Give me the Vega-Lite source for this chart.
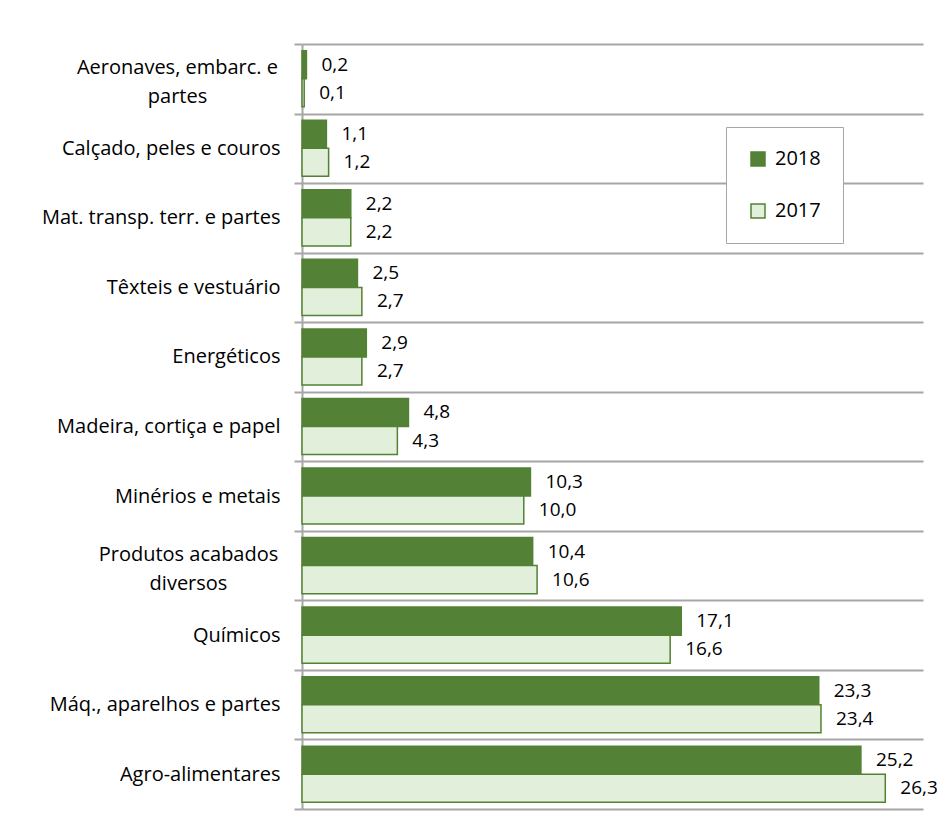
{
  "$schema": "https://vega.github.io/schema/vega-lite/v6.json",
  "autosize": {"type": "none"},
  "padding": {"left": 302, "top": 44, "right": 29, "bottom": 19},
  "width": 621,
  "height": 765,
  "background": "white",
  "config": {
    "view": {"stroke": null},
    "locale": {"number": {"decimal": ",", "thousands": ".", "grouping": [3], "currency": ["", " €"]}}
  },
  "data": {
    "values": [
      {"cat": "Aeronaves, embarc. e partes", "year": "2018", "value": 0.2},
      {"cat": "Aeronaves, embarc. e partes", "year": "2017", "value": 0.1},
      {"cat": "Calçado, peles e couros", "year": "2018", "value": 1.1},
      {"cat": "Calçado, peles e couros", "year": "2017", "value": 1.2},
      {"cat": "Mat. transp. terr. e partes", "year": "2018", "value": 2.2},
      {"cat": "Mat. transp. terr. e partes", "year": "2017", "value": 2.2},
      {"cat": "Têxteis e vestuário", "year": "2018", "value": 2.5},
      {"cat": "Têxteis e vestuário", "year": "2017", "value": 2.7},
      {"cat": "Energéticos", "year": "2018", "value": 2.9},
      {"cat": "Energéticos", "year": "2017", "value": 2.7},
      {"cat": "Madeira, cortiça e papel", "year": "2018", "value": 4.8},
      {"cat": "Madeira, cortiça e papel", "year": "2017", "value": 4.3},
      {"cat": "Minérios e metais", "year": "2018", "value": 10.3},
      {"cat": "Minérios e metais", "year": "2017", "value": 10.0},
      {"cat": "Produtos acabados diversos", "year": "2018", "value": 10.4},
      {"cat": "Produtos acabados diversos", "year": "2017", "value": 10.6},
      {"cat": "Químicos", "year": "2018", "value": 17.1},
      {"cat": "Químicos", "year": "2017", "value": 16.6},
      {"cat": "Máq., aparelhos e partes", "year": "2018", "value": 23.3},
      {"cat": "Máq., aparelhos e partes", "year": "2017", "value": 23.4},
      {"cat": "Agro-alimentares", "year": "2018", "value": 25.2},
      {"cat": "Agro-alimentares", "year": "2017", "value": 26.3}
    ]
  },
  "encoding": {
    "y": {
      "field": "cat",
      "type": "nominal",
      "sort": null,
      "scale": {"paddingInner": 0, "paddingOuter": 0},
      "axis": {
        "title": null,
        "tickBand": "extent",
        "grid": true,
        "gridColor": "#a6a6a6",
        "gridWidth": 2,
        "domainColor": "#a6a6a6",
        "domainWidth": 2,
        "tickColor": "#a6a6a6",
        "tickWidth": 2,
        "tickSize": 8,
        "labelFont": "Open Sans",
        "labelFontSize": 20,
        "labelColor": "#000000",
        "labelLimit": 400,
        "labelLineHeight": 29,
        "labelExpr": "datum.value == 'Aeronaves, embarc. e partes' ? ['Aeronaves, embarc. e', 'partes'] : datum.value == 'Produtos acabados diversos' ? ['Produtos acabados', 'diversos'] : datum.value",
        "labelAlign": {"condition": {"test": "datum.value == 'Aeronaves, embarc. e partes' || datum.value == 'Produtos acabados diversos'", "value": "center"}, "value": "right"},
        "labelOffset": {"condition": {"test": "datum.value == 'Aeronaves, embarc. e partes' || datum.value == 'Produtos acabados diversos'", "value": -11}, "value": 0},
        "labelPadding": {"condition": [
          {"test": "datum.value == 'Aeronaves, embarc. e partes'", "value": 117},
          {"test": "datum.value == 'Produtos acabados diversos'", "value": 106}
        ], "value": 14}
      }
    },
    "yOffset": {
      "field": "year",
      "type": "nominal",
      "sort": ["2018", "2017"],
      "scale": {"paddingInner": 0, "paddingOuter": 0.24}
    },
    "x": {
      "field": "value",
      "type": "quantitative",
      "scale": {"domain": [0, 28], "nice": false, "zero": true},
      "axis": null
    }
  },
  "layer": [
    {
      "mark": {"type": "bar", "strokeWidth": 1.5},
      "encoding": {
        "fill": {
          "field": "year",
          "type": "nominal",
          "scale": {"domain": ["2018", "2017"], "range": ["#538135", "#E2EFDA"]},
          "legend": {
            "title": null,
            "orient": "none",
            "legendX": 424,
            "legendY": 83,
            "fillColor": "white",
            "strokeColor": "#a6a6a6",
            "padding": 22,
            "rowPadding": 32,
            "symbolType": "square",
            "symbolSize": 196,
            "symbolStrokeWidth": 1.5,
            "labelOffset": 7,
            "labelFont": "Open Sans",
            "labelFontSize": 20,
            "labelColor": "#000000"
          }
        },
        "stroke": {
          "field": "year",
          "type": "nominal",
          "scale": {"domain": ["2018", "2017"], "range": ["#538135", "#538135"]},
          "legend": null
        }
      }
    },
    {
      "mark": {"type": "text", "align": "left", "baseline": "middle", "dx": 15, "font": "Open Sans", "fontSize": 19, "color": "#000000"},
      "encoding": {
        "text": {"field": "value", "type": "quantitative", "format": ".1f"}
      }
    }
  ]
}
